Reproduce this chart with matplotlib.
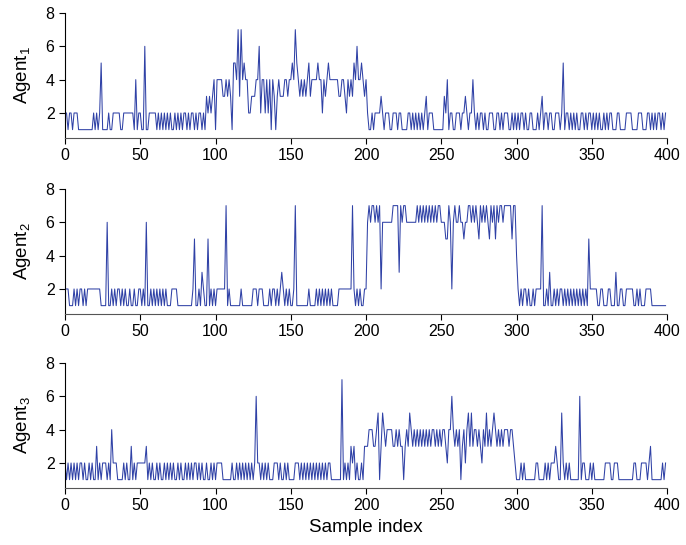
import numpy as np
import matplotlib
matplotlib.use("Agg")
import matplotlib.pyplot as plt

plt.rcParams['font.family'] = ['Liberation Sans', 'DejaVu Sans']
plt.rcParams['mathtext.default'] = 'regular'

# selected state per sample, one list per agent
agent1 = [
    2,2,1,2,2,1,2,2,2,1, 1,1,1,1,1,1,1,1,1,2, 1,2,1,2,5,1,1,1,1,2, 1,1,2,2,2,2,2,1,1,2,
    2,2,2,2,2,2,1,4,1,2, 2,1,1,6,1,1,2,2,2,2, 2,1,2,1,2,1,2,1,2,1, 2,1,1,2,1,2,1,2,1,2,
    2,1,2,1,2,2,1,2,1,2, 2,1,2,1,3,2,3,2,3,4,
    1,4,4,4,4,3,3,4,3,4, 3,1,5,5,4,7,3,7,4,5, 4,4,2,2,3,3,3,4,4,6, 2,4,4,2,4,2,4,1,4,3,
    1,3,4,3,3,3,4,4,3,4, 4,5,4,7,5,4,3,4,3,4, 3,4,5,3,4,4,4,4,5,4, 4,2,4,3,4,5,4,4,4,4,
    4,4,3,3,4,4,3,2,4,3, 4,3,5,4,6,4,4,5,4,3,
    4,2,1,1,2,1,2,2,2,2, 3,2,1,2,2,2,1,1,2,2, 2,1,2,2,1,1,1,1,2,2, 1,2,1,2,1,2,1,2,1,2,
    3,1,2,2,2,1,1,1,1,1, 1,1,3,2,4,1,2,2,1,1, 2,2,2,1,2,2,3,2,1,2, 2,4,2,1,2,1,2,2,1,2,
    1,1,2,2,2,1,1,2,2,1, 2,1,2,2,2,1,1,2,1,2,
    1,2,1,2,2,1,2,1,1,2, 2,1,1,1,2,1,2,3,1,2, 2,1,2,2,1,1,2,2,2,1, 2,5,1,2,2,1,2,1,2,1,
    2,1,1,2,2,1,2,1,2,2, 1,2,1,2,1,2,1,1,2,1, 2,1,2,2,1,1,1,2,2,1, 1,1,1,2,2,2,2,1,1,1,
    1,2,2,2,1,1,1,2,2,1, 2,1,2,1,2,2,1,2,1,2,
]
agent2 = [
    2,2,2,1,1,1,2,1,2,1, 2,2,1,2,1,2,2,2,2,2, 2,2,2,2,1,1,1,1,6,1, 1,2,1,2,1,2,2,1,2,1,
    2,1,1,2,1,1,2,1,1,2, 2,1,2,1,6,1,1,2,1,2, 1,2,1,2,1,2,1,2,1,1, 1,2,2,2,2,1,1,1,1,1,
    1,1,1,1,1,2,5,1,1,2, 1,3,2,1,1,5,1,2,1,2,
    1,2,2,2,2,2,2,7,1,2, 1,1,1,1,1,1,1,2,1,1, 1,1,1,1,1,2,2,2,1,2, 2,2,1,1,1,1,2,1,2,2,
    1,2,1,2,3,2,1,2,1,2, 1,1,2,7,1,1,1,1,1,1, 1,1,2,1,1,1,1,2,1,2, 1,2,1,2,1,2,1,2,1,1,
    1,1,2,2,2,2,2,2,2,2, 2,7,2,1,2,1,2,1,1,2,
    2,6,7,6,7,7,6,7,6,7, 2,6,6,6,6,6,6,6,7,7, 7,7,3,7,6,7,7,6,6,6, 6,6,6,6,7,6,7,6,7,6,
    7,6,7,6,7,6,7,6,7,7, 6,6,6,5,5,7,6,2,6,7, 6,6,7,6,6,5,6,6,7,7, 6,7,6,7,6,5,7,6,7,6,
    7,6,5,7,6,7,5,7,6,7, 7,6,7,7,7,7,7,5,7,7,
    4,2,1,2,1,2,2,1,2,1, 1,2,1,2,2,2,2,7,1,1, 2,1,3,1,1,2,1,2,1,2, 2,1,2,1,2,1,2,1,2,1,
    2,1,2,1,2,1,2,1,5,2, 2,2,2,2,1,1,2,2,1,1, 1,2,2,1,1,1,3,1,1,2, 2,1,1,2,2,2,2,2,1,1,
    2,1,2,1,1,1,2,2,2,2, 1,1,1,1,1,1,1,1,1,1,
]
agent3 = [
    2,1,2,1,2,1,2,1,2,1, 2,2,1,2,1,1,2,1,2,1, 1,3,1,2,1,2,2,2,1,2, 1,4,2,2,2,1,1,1,1,2,
    1,2,1,1,3,1,2,1,2,2, 2,2,2,2,3,1,2,1,2,1, 1,2,1,2,1,1,2,1,2,1, 2,1,2,1,1,2,1,2,1,1,
    2,1,2,1,2,1,2,2,1,2, 1,2,1,1,2,1,1,2,1,2,
    1,2,2,2,2,1,1,1,1,1, 1,2,1,1,2,1,2,1,2,1, 2,1,2,1,2,1,2,6,2,2, 1,2,1,2,1,2,1,1,1,2,
    2,2,1,2,1,1,2,1,2,1, 1,1,1,2,2,2,1,2,1,2, 1,2,1,2,1,2,1,2,1,2, 1,2,1,2,1,2,2,1,1,1,
    1,1,1,1,7,1,2,1,2,1, 3,2,3,1,2,1,1,2,1,3,
    3,3,4,4,4,3,3,4,5,1, 3,5,4,3,4,4,4,4,3,3, 4,3,4,3,3,1,3,4,3,5, 4,3,4,3,4,3,4,3,4,3,
    4,3,4,3,4,4,3,4,3,4, 3,4,4,3,2,4,4,6,4,3, 4,3,4,1,3,4,2,4,5,3, 5,3,4,4,3,4,3,2,4,3,
    5,3,4,3,4,5,4,3,4,3, 4,3,4,4,4,3,4,4,3,2,
    1,1,1,2,1,2,1,1,1,1, 1,1,1,2,2,1,1,1,1,2, 1,2,1,2,2,2,3,2,1,1, 5,2,1,2,1,2,1,1,1,1,
    1,1,6,1,2,2,1,1,1,2, 1,2,1,1,1,1,1,1,1,2, 2,2,2,1,1,2,2,2,1,1, 1,1,1,1,1,1,1,1,2,2,
    1,1,1,2,2,2,2,1,2,3, 1,1,1,1,1,1,1,2,1,2,
]
series = [agent1, agent2, agent3]
labels = ['Agent$_1$', 'Agent$_2$', 'Agent$_3$']
xticks = [0, 50, 100, 150, 200, 250, 300, 350, 400]
yticks = [2, 4, 6, 8]

fig = plt.figure(figsize=(6.86, 5.45), dpi=100)
bottoms = [0.7468, 0.4239, 0.1046]
line_color = '#2f41a6'

for vals, lab, b in zip(series, labels, bottoms):
    ax = fig.add_axes([0.0948, b, 0.8776, 0.2294])
    ax.plot(np.arange(len(vals)), vals, color=line_color, lw=0.75)
    ax.set_xlim(0, 400)
    ax.set_ylim(0.5, 8)
    ax.set_xticks(xticks)
    ax.set_yticks(yticks)
    ax.spines['top'].set_visible(False)
    ax.spines['right'].set_visible(False)
    ax.spines['bottom'].set_color('#555555')
    ax.tick_params(direction='out', length=4, width=0.8, labelsize=11.5)
    ax.set_ylabel(lab, fontsize=13.5, labelpad=9)

ax.set_xlabel('Sample index', fontsize=13.5, labelpad=4)

fig.savefig('out.png', dpi=100)
